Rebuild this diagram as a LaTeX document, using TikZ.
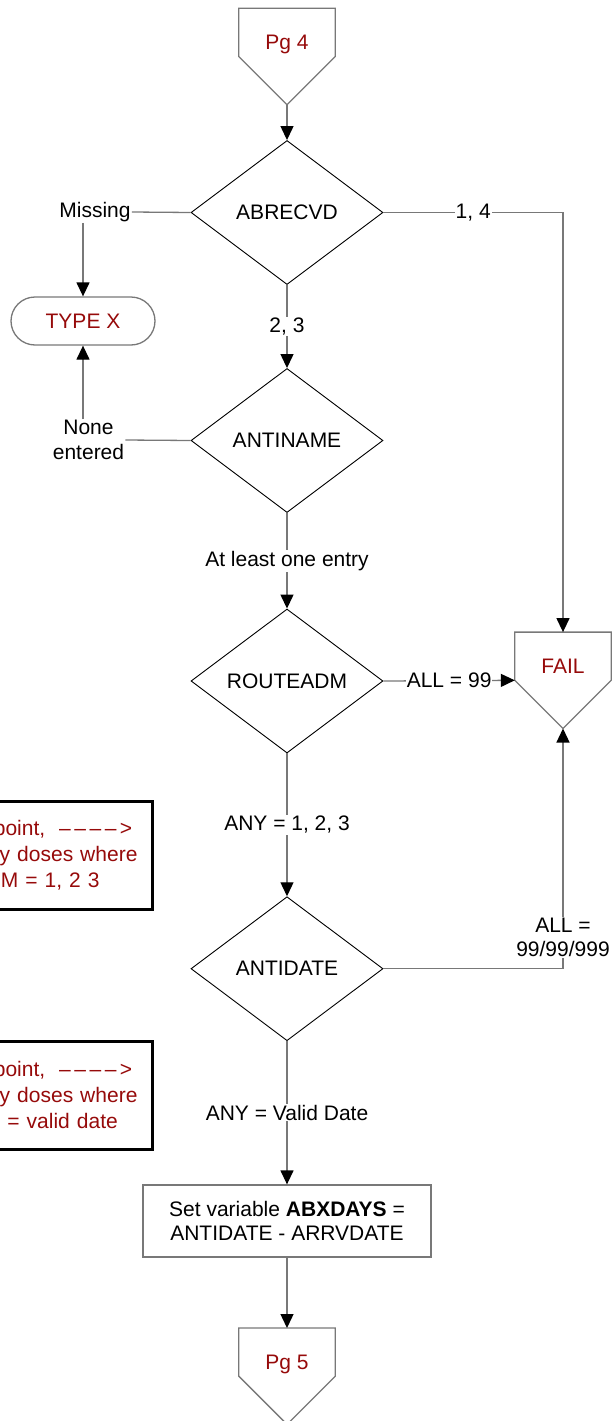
\documentclass[tikz,border=0pt]{standalone}
\usepackage{fontspec}
\setmainfont{Liberation Sans}
\usepackage{xcolor}
\usetikzlibrary{shapes,arrows,positioning,calc,arrows.meta}
\definecolor{darkred}{RGB}{150,10,10}
\definecolor{linegray}{RGB}{120,120,120}

\begin{document}
\begin{tikzpicture}[x=1pt,y=-1pt,
    font=\fontsize{21}{24.7}\selectfont,
    decision/.style={diamond, draw=black, line width=0.9pt, minimum width=192pt, minimum height=144pt, inner sep=0pt},
    offpage/.style={minimum width=96pt, minimum height=96pt, inner sep=0pt, text=darkred, text height=15pt, text depth=28pt},
    terminal/.style={draw=linegray, line width=1.3pt, rounded corners=24pt, minimum width=144pt, minimum height=48pt, text=darkred},
    process/.style={draw=linegray, line width=1.3pt, minimum width=288pt, minimum height=72pt, align=center, text=black},
    note/.style={draw=black, line width=3pt, text=darkred, align=left, text width=246pt, inner xsep=8pt, minimum height=108pt, anchor=east, font=\fontsize{21}{25.8}\selectfont},
    lbl/.style={fill=white, inner sep=1pt, text=black},
    conn/.style={linegray, line width=1.3pt},
    arrow/.style={conn, -{Triangle[length=14pt, width=13pt, color=black, fill=black]}}]
    \useasboundingbox (0,0) rectangle (612,1421);

    \node[offpage] (pgfour) at (287,56.5) {Pg 4};
    \node[decision] (abrecvd) at (287,212.5) {ABRECVD};
    \node[decision] (antiname) at (287,440.5) {ANTINAME};
    \node[decision] (routeadm) at (287,681) {ROUTEADM};
    \node[decision] (antidate) at (287,968.7) {ANTIDATE};
    \node[process] (setdays) at (287,1221) {Set variable \textbf{ABXDAYS} =\\ANTIDATE - ARRVDATE};
    \node[offpage] (pgfive) at (287,1376.2) {Pg 5};
    \node[offpage] (fail) at (563,680.3) {FAIL};
    \node[terminal] (typex) at (83,321) {TYPE X};
    \node[lbl] (missing) at (95,212) {Missing};
    \node[lbl, align=center] (none) at (88.5,440) {None\\entered};

    \node[note] (noteroute) at (153.7,855) {From this point,\ \ –\,–\,–\,–\,>\\include only doses where\\ROUTEADM = 1, 2 3};
    \node[note] (notedate) at (153.7,1095) {From this point,\ \ –\,–\,–\,–\,>\\include only doses where\\ANTIDATE = valid date};

    \foreach \n in {pgfour,pgfive,fail}
        \draw[conn] (\n.north west) -- (\n.north east) -- (\n.east) -- (\n.south) -- (\n.west) -- cycle;

    \draw[arrow] (pgfour.south) -- (abrecvd.north);
    \draw[arrow] (abrecvd.south) -- node[lbl] {2, 3} (antiname.north);
    \draw[arrow] (antiname.south) -- node[lbl] {At least one entry} (routeadm.north);
    \draw[arrow] (routeadm.south) -- node[lbl] {ANY = 1, 2, 3} (antidate.north);
    \draw[arrow] (antidate.south) -- node[lbl] {ANY = Valid Date} (setdays.north);
    \draw[arrow] (setdays.south) -- (pgfive.north);

    \draw[arrow] (abrecvd.east) -| node[lbl, pos=0.25] {1, 4} (fail.north);
    \draw[arrow] (routeadm.east) -- node[lbl] {ALL = 99} (fail.west);
    \draw[arrow] (antidate.east) -| node[lbl, align=center, pos=0.565] {ALL =\\99/99/999} (fail.south);

    \draw[conn] (abrecvd.west) -- (missing.east);
    \draw[arrow] (missing.south -| typex.north) -- (typex.north);
    \draw[conn] (antiname.west) -- (none.east);
    \draw[arrow] (none.north -| typex.south) -- (typex.south);
\end{tikzpicture}
\end{document}
